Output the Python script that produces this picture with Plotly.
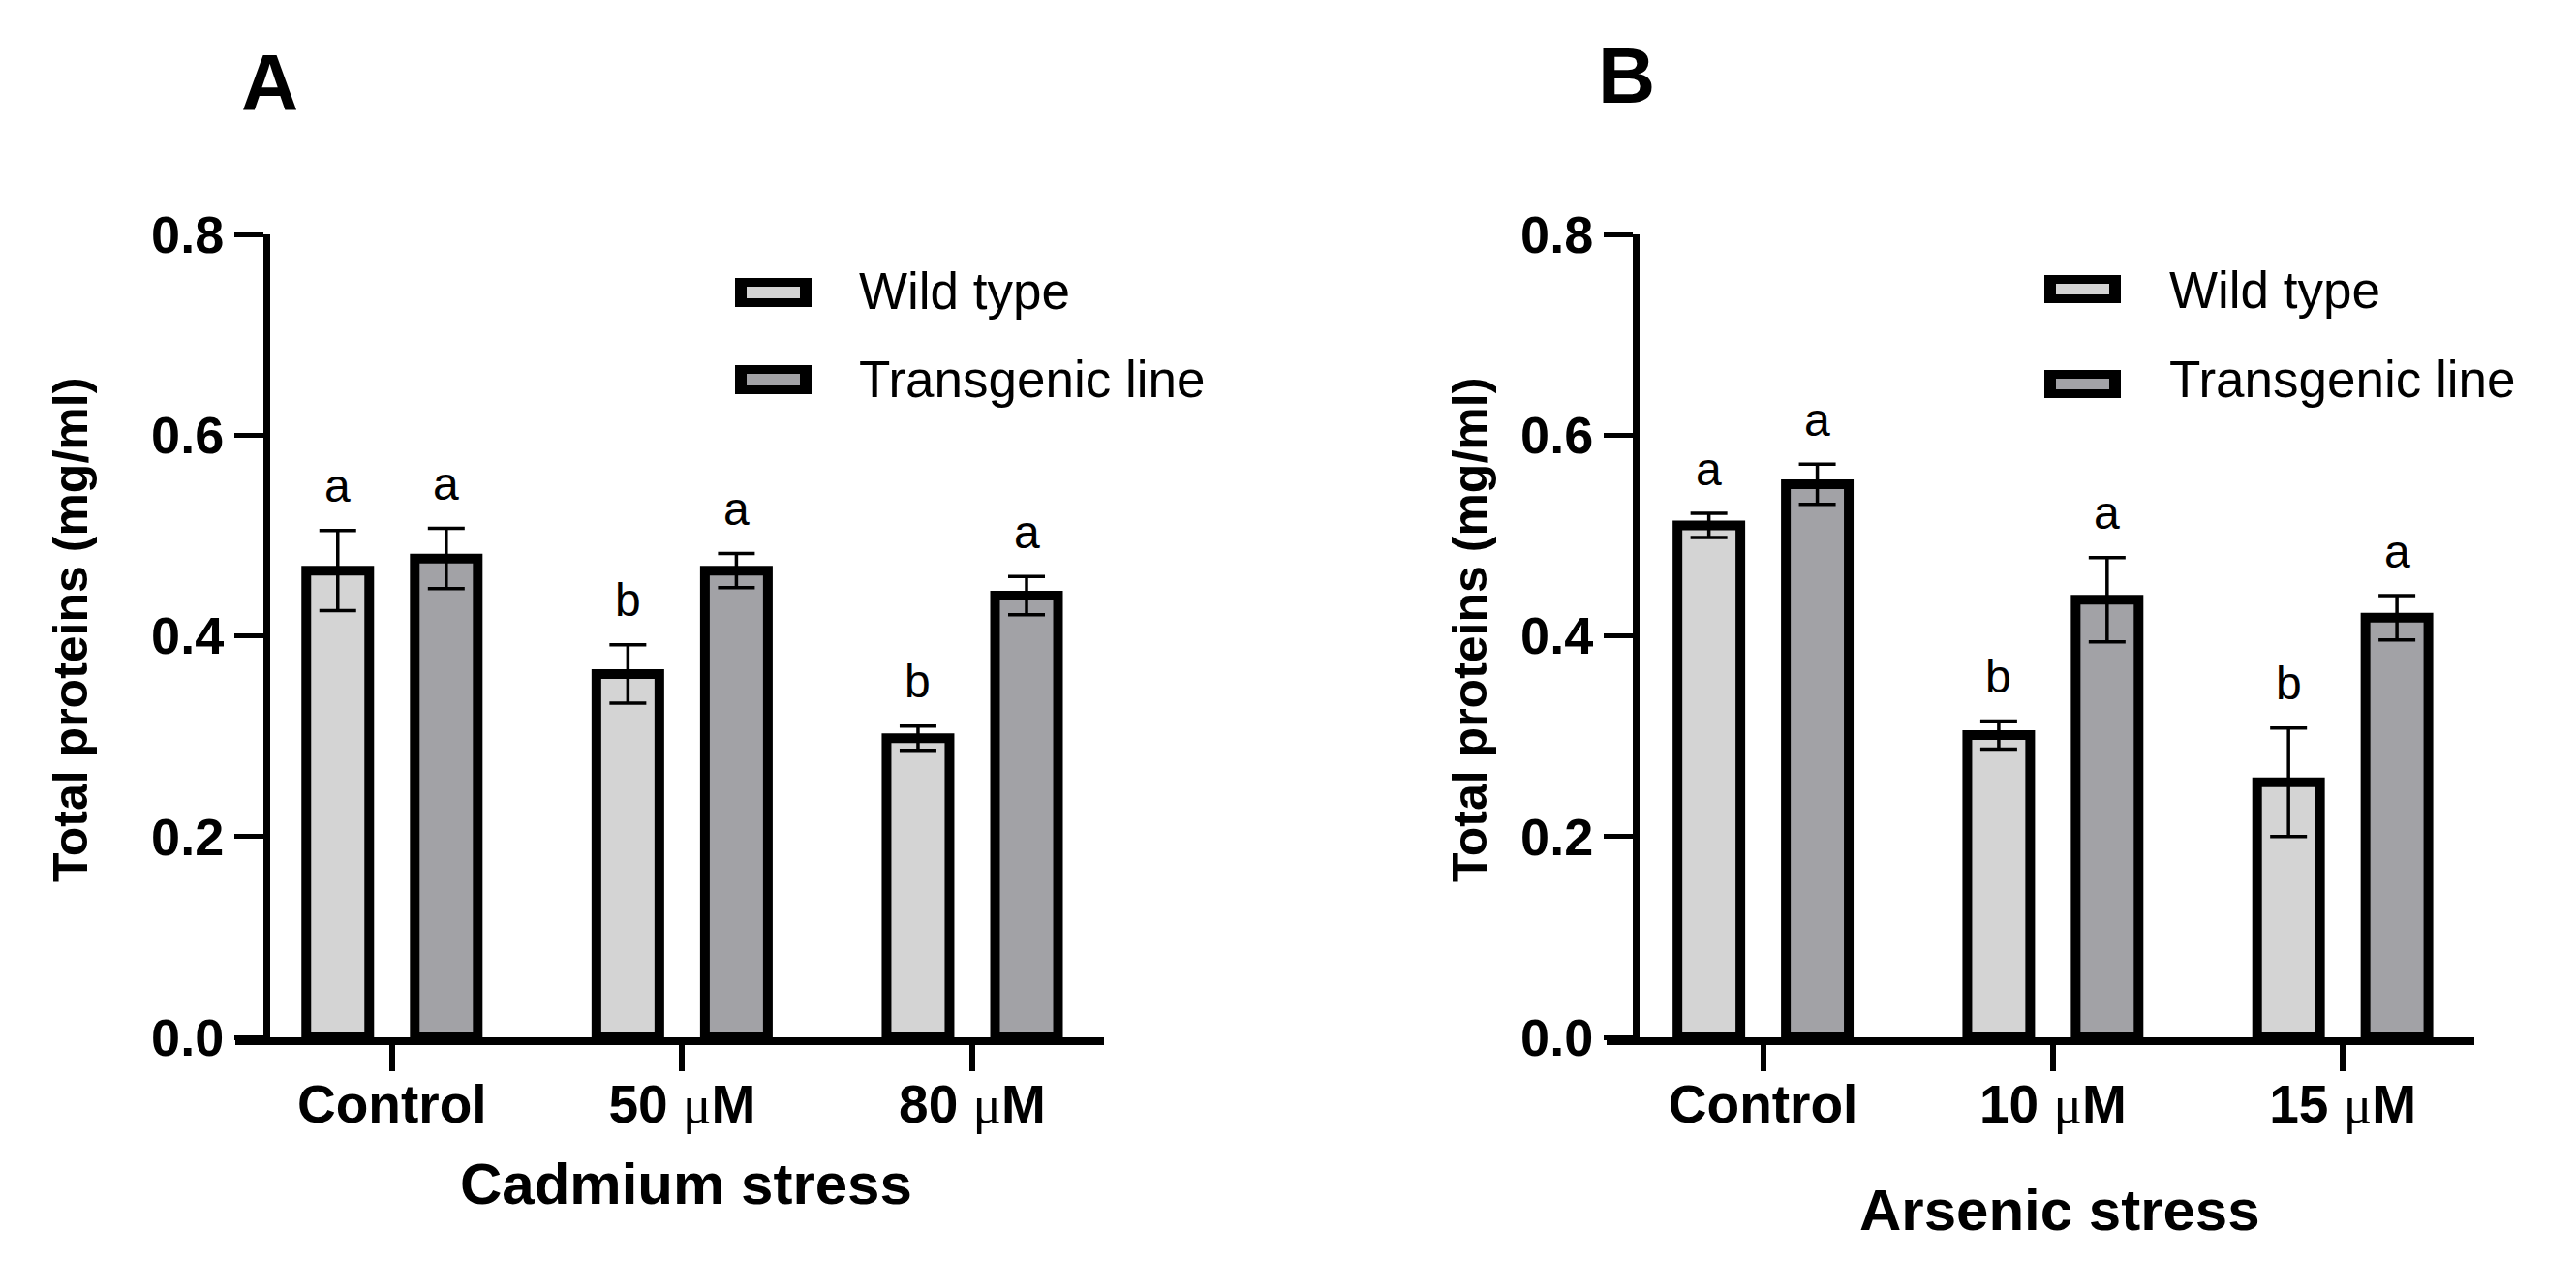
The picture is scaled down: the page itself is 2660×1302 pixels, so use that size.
import plotly.graph_objects as go

# ---------------- data ----------------
series_names = ["Wild type", "Transgenic line"]

cd_categories = ["Control", "50 μM", "80 μM"]
cd_wt = [0.465, 0.362, 0.298]
cd_wt_err = [0.040, 0.029, 0.012]
cd_tg = [0.477, 0.465, 0.440]
cd_tg_err = [0.030, 0.017, 0.019]
cd_wt_letters = ["a", "b", "b"]
cd_tg_letters = ["a", "a", "a"]

as_categories = ["Control", "10 μM", "15 μM"]
as_wt = [0.510, 0.301, 0.254]
as_wt_err = [0.012, 0.014, 0.054]
as_tg = [0.551, 0.436, 0.418]
as_tg_err = [0.020, 0.042, 0.022]
as_wt_letters = ["a", "b", "b"]
as_tg_letters = ["a", "a", "a"]

y_ticks = [0.0, 0.2, 0.4, 0.6, 0.8]
panel_labels = ["A", "B"]
x_titles = ["Cadmium stress", "Arsenic stress"]
y_title = "Total proteins (mg/ml)"

# ---------------- style ----------------
W, H = 2660, 1302
FONT = "Liberation Sans, Arial, sans-serif"
WT_COLOR = "#D4D4D4"
TG_COLOR = "#A2A2A6"
OFFSET = 0.187
BAR_W = 0.217
XRANGE = [-0.54, 2.454]


def px(x):
    return x / W


def py(y):
    return 1 - y / H


def fmt_cat(c):
    return c.replace("μ", "<span style='font-weight:normal;font-family:Liberation Serif'>μ</span>")


fig = go.Figure()

panels = [
    dict(cats=cd_categories, wt=cd_wt, wte=cd_wt_err, tg=cd_tg, tge=cd_tg_err,
         wl=cd_wt_letters, tl=cd_tg_letters, xdom=(243, 1140), ypos=275,
         title_xy=(708, 1222), ytitle_x=73, label_xy=(278, 85),
         leg_box=(759, 838), leg_y=[(287, 317), (377, 407)], leg_text_x=885, leg_text_y=[300, 392]),
    dict(cats=as_categories, wt=as_wt, wte=as_wt_err, tg=as_tg, tge=as_tg_err,
         wl=as_wt_letters, tl=as_tg_letters, xdom=(1659, 2555), ypos=1689,
         title_xy=(2127, 1249), ytitle_x=1518, label_xy=(1679, 78),
         leg_box=(2111, 2190), leg_y=[(284, 313), (382, 411)], leg_text_x=2238, leg_text_y=[299, 392]),
]

for i, p in enumerate(panels):
    xa = "x" if i == 0 else "x2"
    ya = "y" if i == 0 else "y2"
    idx = list(range(len(p["cats"])))
    for vals, errs, color, name, sgn, letters in [
        (p["wt"], p["wte"], WT_COLOR, series_names[0], -1, p["wl"]),
        (p["tg"], p["tge"], TG_COLOR, series_names[1], 1, p["tl"]),
    ]:
        xs = [k + sgn * OFFSET for k in idx]
        fig.add_trace(go.Bar(
            x=xs, y=vals, width=BAR_W, name=name, showlegend=False,
            marker=dict(color=color, line=dict(color="black", width=10)),
            error_y=dict(type="data", array=errs, visible=True, color="black",
                         thickness=3.5, width=19),
            xaxis=xa, yaxis=ya,
        ))
        for x, v, e, L in zip(xs, vals, errs, letters):
            fig.add_annotation(x=x, y=v + e, xref=xa, yref=ya, text=L, showarrow=False,
                               yanchor="middle", yshift=46,
                               font=dict(family=FONT, size=48, color="black"))

    # axis titles / panel labels
    fig.add_annotation(x=px(p["title_xy"][0]), y=py(p["title_xy"][1]), xref="paper", yref="paper",
                       text=x_titles[i], showarrow=False, xanchor="center", yanchor="middle",
                       font=dict(family=FONT, size=60, color="black", weight="bold"))
    fig.add_annotation(x=px(p["ytitle_x"]), y=py(651), xref="paper", yref="paper",
                       text=y_title, showarrow=False, textangle=-90, xanchor="center", yanchor="middle",
                       font=dict(family=FONT, size=50, color="black", weight="bold"))
    fig.add_annotation(x=px(p["label_xy"][0]), y=py(p["label_xy"][1]), xref="paper", yref="paper",
                       text=panel_labels[i], showarrow=False, xanchor="center", yanchor="middle",
                       font=dict(family=FONT, size=82, color="black", weight="bold"))

    # legend
    x0, x1 = p["leg_box"]
    for (y0, y1), color, name, ty in zip(p["leg_y"], [WT_COLOR, TG_COLOR], series_names, p["leg_text_y"]):
        fig.add_shape(type="rect", xref="paper", yref="paper",
                      x0=px(x0), x1=px(x1), y0=py(y0), y1=py(y1),
                      fillcolor="black", line=dict(width=0))
        fig.add_shape(type="rect", xref="paper", yref="paper",
                      x0=px(x0 + 12), x1=px(x1 - 12), y0=py(y0 + 9), y1=py(y1 - 9),
                      fillcolor=color, line=dict(width=0))
        fig.add_annotation(x=px(p["leg_text_x"]), y=py(ty), xref="paper", yref="paper",
                           text=name, showarrow=False, xanchor="left", yanchor="middle",
                           font=dict(family=FONT, size=53, color="black"))

    xaxis = dict(domain=[px(p["xdom"][0]), px(p["xdom"][1])], range=XRANGE, anchor=ya,
                 tickvals=idx, ticktext=[fmt_cat(c) for c in p["cats"]],
                 showline=True, linecolor="black", linewidth=8, ticks="outside",
                 ticklen=27, tickwidth=6, tickcolor="black", showgrid=False, zeroline=False,
                 ticklabelstandoff=-13, automargin=False,
                 tickfont=dict(family=FONT, size=55, color="black", weight="bold"))
    yaxis = dict(domain=[py(1071), py(242)], range=[0, 0.8], anchor="free", position=px(p["ypos"]),
                 tickvals=y_ticks, ticktext=[f"{t:.1f}" for t in y_ticks],
                 showline=True, linecolor="black", linewidth=7, ticks="outside",
                 ticklen=30, tickwidth=5, tickcolor="black", showgrid=False, zeroline=False,
                 automargin=False,
                 tickfont=dict(family=FONT, size=54, color="black", weight="bold"))
    if i == 0:
        fig.update_layout(xaxis=xaxis, yaxis=yaxis)
    else:
        fig.update_layout(xaxis2=xaxis, yaxis2=yaxis)

fig.update_layout(
    width=W, height=H, margin=dict(l=0, r=0, t=0, b=0),
    paper_bgcolor="white", plot_bgcolor="white", barmode="overlay",
    font=dict(family=FONT, color="black"),
)

fig.write_html("out.html", config={"displayModeBar": False},
               post_script="document.body.style.margin='0';")
